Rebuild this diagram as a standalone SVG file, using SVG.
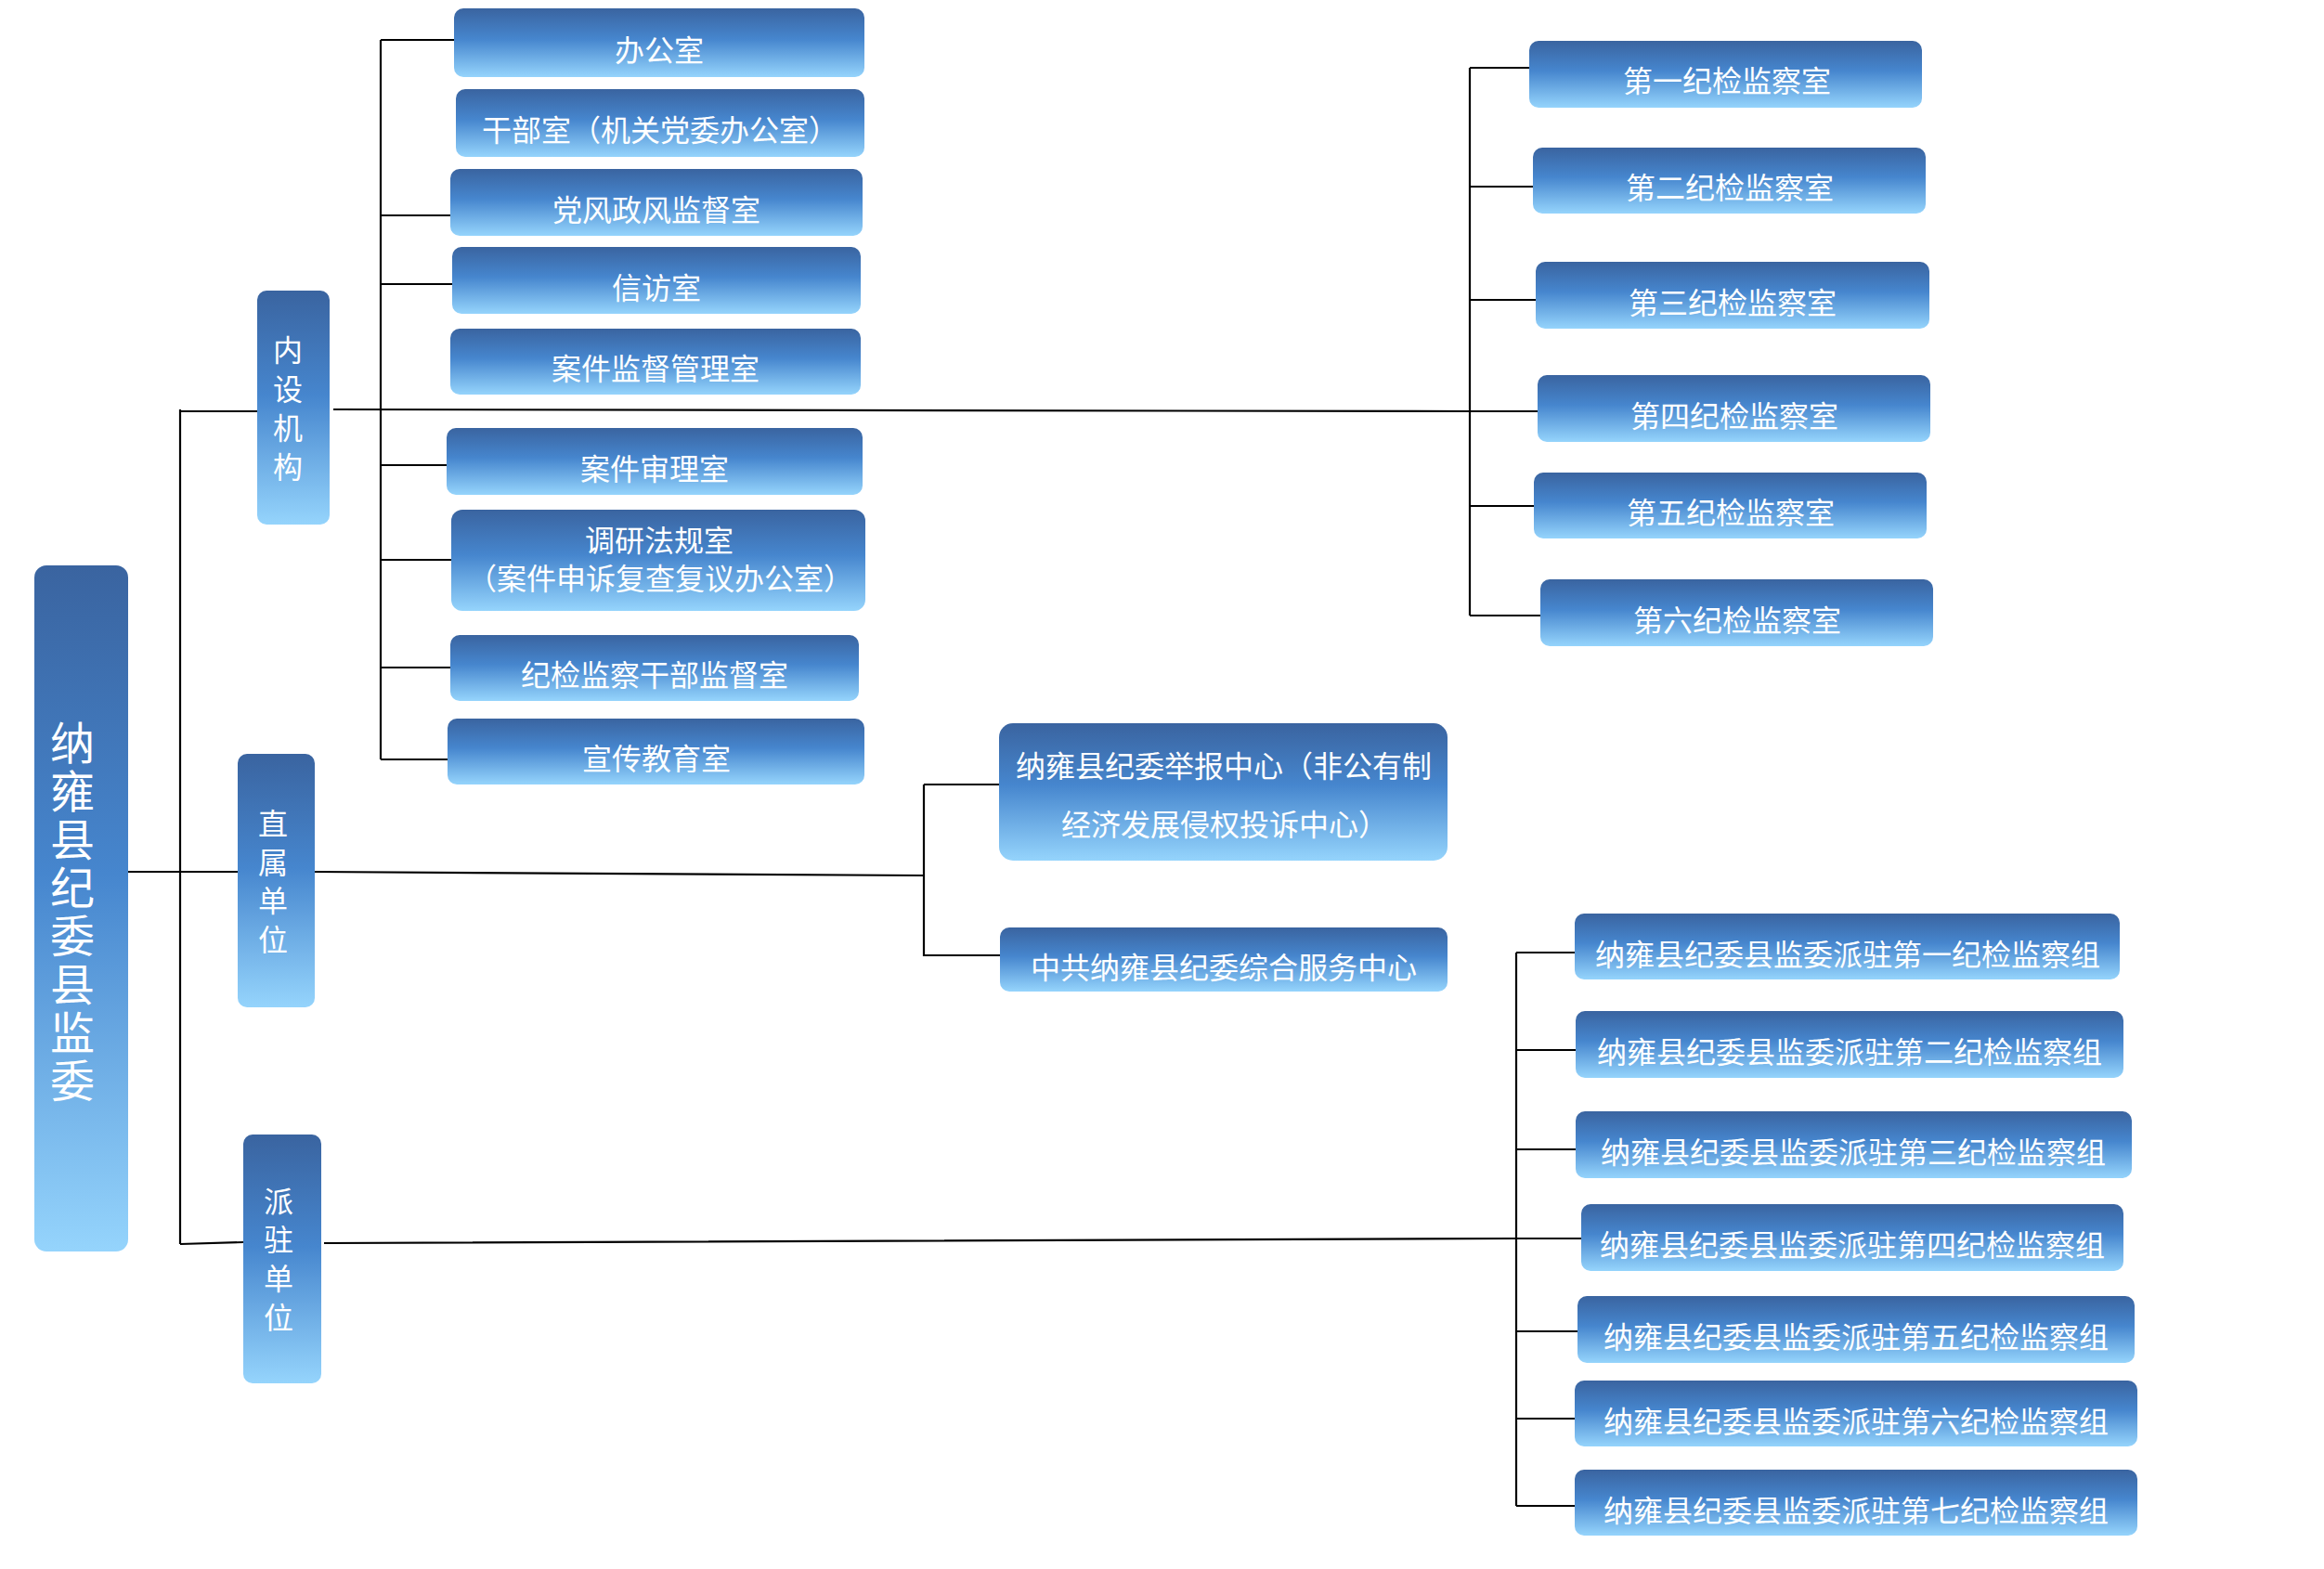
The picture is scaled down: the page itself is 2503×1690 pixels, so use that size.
<svg xmlns="http://www.w3.org/2000/svg" width="2503" height="1690" viewBox="0 0 2503 1690">
<defs>
<linearGradient id="g" x1="0" y1="0" x2="0" y2="1">
<stop offset="0" stop-color="#3A64A0"/>
<stop offset="0.45" stop-color="#4686CE"/>
<stop offset="1" stop-color="#95D4FC"/>
</linearGradient>
<style>
.b{fill:url(#g);}
.t{font-family:"Noto Sans CJK SC","Noto Sans",sans-serif;font-size:32px;fill:#fff;text-anchor:middle;dominant-baseline:central;}
.r{font-size:48px;}
.c{stroke:#000;stroke-width:2.2;fill:none;}
</style>
</defs>
<rect width="2503" height="1690" fill="#fff"/>
<g id="connectors" class="c">
<path d="M138 939H256"/>
<path d="M194 441V1340"/>
<path d="M194 443H277"/>
<path d="M194 1340L262 1338"/>
<path d="M359 441L1583 443H1656"/>
<path d="M410 43V818"/>
<path d="M410 43H489"/>
<path d="M410 232H485"/>
<path d="M410 306H487"/>
<path d="M410 501H481"/>
<path d="M410 603H486"/>
<path d="M410 719H485"/>
<path d="M410 818H482"/>
<path d="M1583 73V663"/>
<path d="M1583 73H1647"/>
<path d="M1583 201H1651"/>
<path d="M1583 323H1654"/>
<path d="M1583 545H1652"/>
<path d="M1583 663H1659"/>
<path d="M339 939L995 943"/>
<path d="M995 845V1030"/>
<path d="M995 845H1076"/>
<path d="M995 1029H1077"/>
<path d="M349 1339L1633 1334H1703"/>
<path d="M1633 1026V1622"/>
<path d="M1633 1026H1696"/>
<path d="M1633 1131H1697"/>
<path d="M1633 1238H1697"/>
<path d="M1633 1434H1699"/>
<path d="M1633 1528H1696"/>
<path d="M1633 1622H1696"/>
</g>
<g id="root"><rect class="b" x="37" y="609" width="101" height="739" rx="13"/>
<text class="t r"><tspan x="78" y="797">纳</tspan><tspan x="78" y="849">雍</tspan><tspan x="78" y="901">县</tspan><tspan x="78" y="953">纪</tspan><tspan x="78" y="1005">委</tspan><tspan x="78" y="1057">县</tspan><tspan x="78" y="1109">监</tspan><tspan x="78" y="1161">委</tspan></text></g>
<g id="neishe"><rect class="b" x="277" y="313" width="78" height="252" rx="10"/>
<text class="t"><tspan x="310" y="375">内</tspan><tspan x="310" y="417">设</tspan><tspan x="310" y="459">机</tspan><tspan x="310" y="501">构</tspan></text></g>
<g id="zhishu"><rect class="b" x="256" y="812" width="83" height="273" rx="10"/>
<text class="t"><tspan x="294" y="885">直</tspan><tspan x="294" y="927">属</tspan><tspan x="294" y="968">单</tspan><tspan x="294" y="1010">位</tspan></text></g>
<g id="paizhu"><rect class="b" x="262" y="1222" width="84" height="268" rx="10"/>
<text class="t"><tspan x="300" y="1292">派</tspan><tspan x="300" y="1333">驻</tspan><tspan x="300" y="1375">单</tspan><tspan x="300" y="1417">位</tspan></text></g>
<g id="n1"><rect class="b" x="489" y="9" width="442" height="74" rx="10"/><text class="t" x="710" y="52">办公室</text></g>
<g id="n2"><rect class="b" x="491" y="96" width="440" height="73" rx="10"/><text class="t" x="711" y="138">干部室（机关党委办公室）</text></g>
<g id="n3"><rect class="b" x="485" y="182" width="444" height="72" rx="10"/><text class="t" x="707" y="224">党风政风监督室</text></g>
<g id="n4"><rect class="b" x="487" y="266" width="440" height="72" rx="10"/><text class="t" x="707" y="308">信访室</text></g>
<g id="n5"><rect class="b" x="485" y="354" width="442" height="71" rx="10"/><text class="t" x="706" y="395">案件监督管理室</text></g>
<g id="n6"><rect class="b" x="481" y="461" width="448" height="72" rx="10"/><text class="t" x="705" y="503">案件审理室</text></g>
<g id="n7"><rect class="b" x="486" y="549" width="446" height="109" rx="12"/><text class="t" x="710" y="580">调研法规室</text><text class="t" x="711" y="621">（案件申诉复查复议办公室）</text></g>
<g id="n8"><rect class="b" x="485" y="684" width="440" height="71" rx="10"/><text class="t" x="705" y="725">纪检监察干部监督室</text></g>
<g id="n9"><rect class="b" x="482" y="774" width="449" height="71" rx="10"/><text class="t" x="707" y="815">宣传教育室</text></g>
<g id="s1"><rect class="b" x="1647" y="44" width="423" height="72" rx="10"/><text class="t" x="1860" y="85">第一纪检监察室</text></g>
<g id="s2"><rect class="b" x="1651" y="159" width="423" height="71" rx="10"/><text class="t" x="1863" y="200">第二纪检监察室</text></g>
<g id="s3"><rect class="b" x="1654" y="282" width="424" height="72" rx="10"/><text class="t" x="1866" y="324">第三纪检监察室</text></g>
<g id="s4"><rect class="b" x="1656" y="404" width="423" height="72" rx="10"/><text class="t" x="1868" y="446">第四纪检监察室</text></g>
<g id="s5"><rect class="b" x="1652" y="509" width="423" height="71" rx="10"/><text class="t" x="1864" y="550">第五纪检监察室</text></g>
<g id="s6"><rect class="b" x="1659" y="624" width="423" height="72" rx="10"/><text class="t" x="1871" y="666">第六纪检监察室</text></g>
<g id="d1"><rect class="b" x="1076" y="779" width="483" height="148" rx="15"/><text class="t" x="1318" y="823">纳雍县纪委举报中心（非公有制</text><text class="t" x="1319" y="886">经济发展侵权投诉中心）</text></g>
<g id="d2"><rect class="b" x="1077" y="999" width="482" height="69" rx="10"/><text class="t" x="1318" y="1040">中共纳雍县纪委综合服务中心</text></g>
<g id="p1"><rect class="b" x="1696" y="984" width="587" height="71" rx="10"/><text class="t" x="1990" y="1026">纳雍县纪委县监委派驻第一纪检监察组</text></g>
<g id="p2"><rect class="b" x="1697" y="1089" width="590" height="72" rx="10"/><text class="t" x="1992" y="1131">纳雍县纪委县监委派驻第二纪检监察组</text></g>
<g id="p3"><rect class="b" x="1697" y="1197" width="599" height="72" rx="10"/><text class="t" x="1996" y="1239">纳雍县纪委县监委派驻第三纪检监察组</text></g>
<g id="p4"><rect class="b" x="1703" y="1297" width="584" height="72" rx="10"/><text class="t" x="1995" y="1339">纳雍县纪委县监委派驻第四纪检监察组</text></g>
<g id="p5"><rect class="b" x="1699" y="1396" width="600" height="72" rx="10"/><text class="t" x="1999" y="1438">纳雍县纪委县监委派驻第五纪检监察组</text></g>
<g id="p6"><rect class="b" x="1696" y="1487" width="606" height="71" rx="10"/><text class="t" x="1999" y="1529">纳雍县纪委县监委派驻第六纪检监察组</text></g>
<g id="p7"><rect class="b" x="1696" y="1583" width="606" height="71" rx="10"/><text class="t" x="1999" y="1625">纳雍县纪委县监委派驻第七纪检监察组</text></g>
</svg>
